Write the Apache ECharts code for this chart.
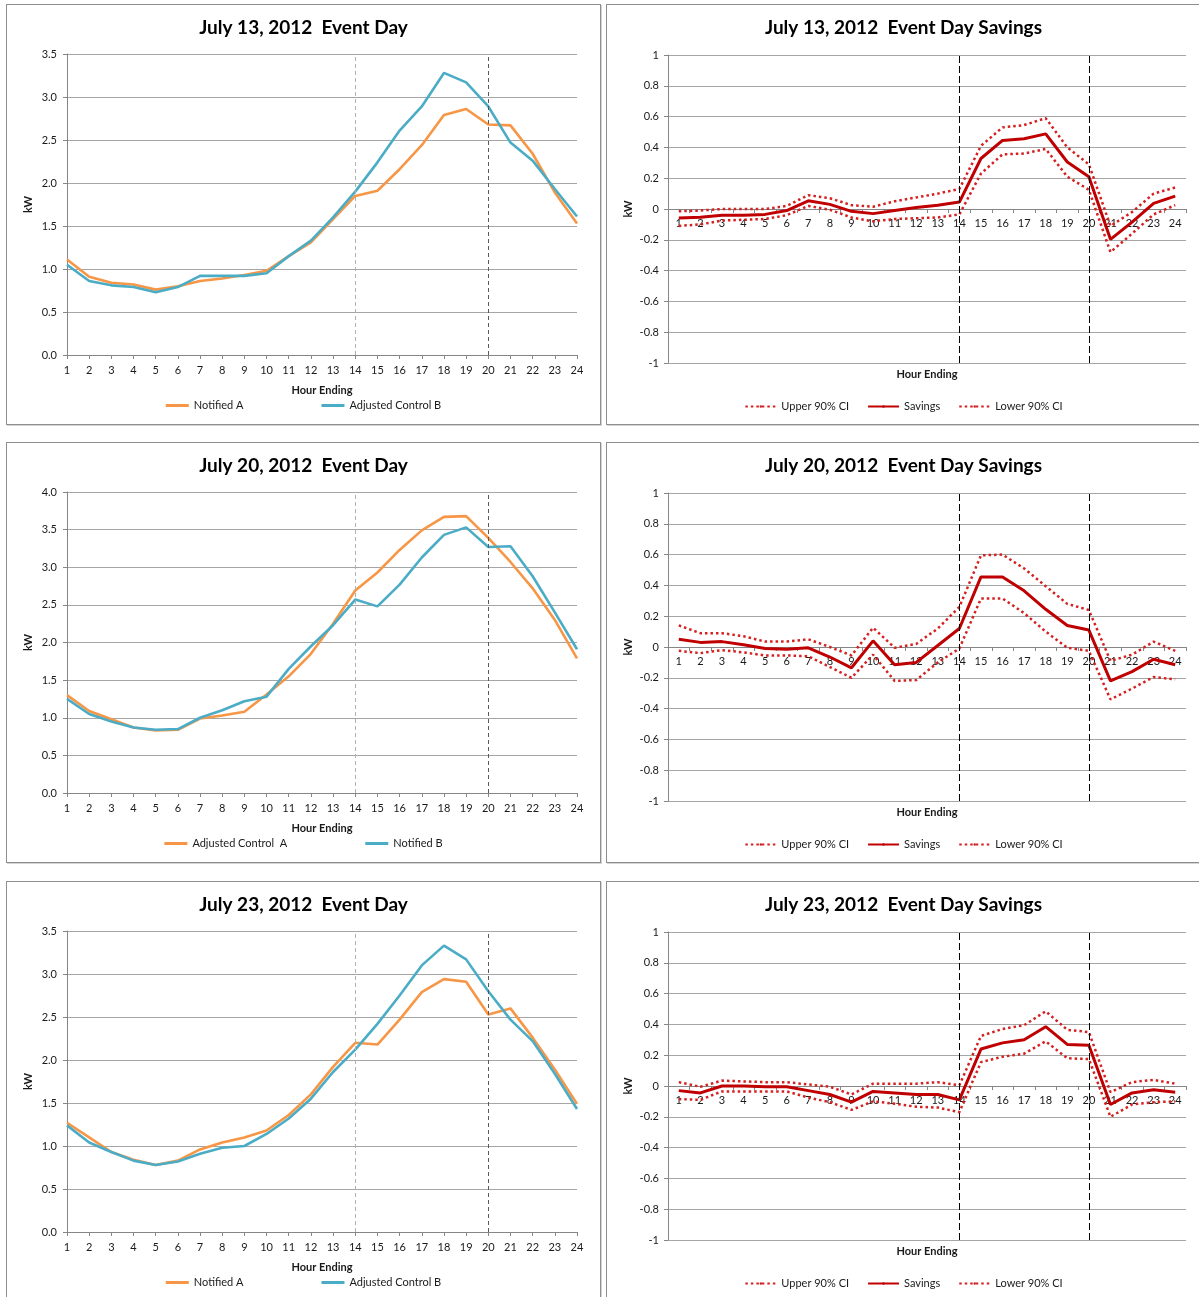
<!DOCTYPE html>
<html><head><meta charset="utf-8">
<script src="https://cdn.jsdelivr.net/npm/echarts@6/dist/echarts.min.js"></script>
<style>
html,body{margin:0;padding:0;background:#fff;width:1199px;height:1297px;overflow:hidden;}
.panel{position:absolute;box-sizing:border-box;border:1px solid #8e8e8e;box-shadow:1px 1px 0 #d4d4d4;width:595px;height:421px;background:#fff;}
</style></head><body>
<div id="c1" class="panel" style="left:6px;top:4px"></div>
<div id="c2" class="panel" style="left:606px;top:4px"></div>
<div id="c3" class="panel" style="left:6px;top:442px"></div>
<div id="c4" class="panel" style="left:606px;top:442px"></div>
<div id="c5" class="panel" style="left:6px;top:881px"></div>
<div id="c6" class="panel" style="left:606px;top:881px"></div>
<script>
// ---------- data ----------
const hours = ['1','2','3','4','5','6','7','8','9','10','11','12','13','14','15','16','17','18','19','20','21','22','23','24'];
const eventStart = '14';
const eventEnd = '20';

// July 13
const jul13NotifiedA = [1.11,0.91,0.84,0.82,0.76,0.80,0.86,0.89,0.93,0.98,1.15,1.31,1.58,1.85,1.91,2.16,2.44,2.79,2.86,2.68,2.67,2.34,1.89,1.53];
const jul13AdjControlB = [1.05,0.86,0.81,0.79,0.73,0.79,0.92,0.92,0.92,0.95,1.15,1.33,1.60,1.90,2.24,2.61,2.89,3.28,3.17,2.89,2.47,2.26,1.93,1.61];
const jul13Upper = [-0.015,-0.01,0,0,0,0.02,0.09,0.07,0.025,0.015,0.05,0.075,0.10,0.13,0.41,0.53,0.545,0.59,0.40,0.29,-0.11,-0.02,0.10,0.14];
const jul13Savings = [-0.058,-0.054,-0.04,-0.04,-0.035,-0.01,0.053,0.03,-0.015,-0.03,-0.01,0.01,0.025,0.045,0.328,0.445,0.456,0.488,0.305,0.209,-0.197,-0.085,0.037,0.084];
const jul13Lower = [-0.11,-0.10,-0.075,-0.07,-0.065,-0.04,0.02,-0.005,-0.055,-0.08,-0.065,-0.06,-0.055,-0.035,0.23,0.355,0.36,0.39,0.21,0.125,-0.28,-0.16,-0.035,0.025];

// July 20
const jul20AdjControlA = [1.30,1.09,0.98,0.87,0.83,0.84,0.99,1.03,1.08,1.31,1.55,1.85,2.25,2.69,2.93,3.23,3.49,3.67,3.68,3.39,3.07,2.72,2.30,1.79];
const jul20NotifiedB = [1.25,1.05,0.95,0.87,0.84,0.85,1.00,1.10,1.22,1.28,1.65,1.95,2.23,2.57,2.48,2.77,3.13,3.43,3.53,3.27,3.28,2.88,2.40,1.91];
const jul20Upper = [0.14,0.09,0.09,0.07,0.035,0.035,0.05,0.0,-0.055,0.125,-0.005,0.02,0.12,0.26,0.595,0.60,0.51,0.395,0.28,0.24,-0.09,-0.05,0.035,-0.025];
const jul20Savings = [0.05,0.03,0.035,0.015,-0.01,-0.015,-0.005,-0.065,-0.135,0.04,-0.115,-0.10,0.01,0.12,0.455,0.455,0.365,0.245,0.14,0.11,-0.22,-0.16,-0.08,-0.115];
const jul20Lower = [-0.025,-0.04,-0.02,-0.035,-0.055,-0.055,-0.06,-0.13,-0.20,-0.05,-0.22,-0.215,-0.10,-0.01,0.315,0.315,0.22,0.10,-0.005,-0.025,-0.34,-0.27,-0.195,-0.21];

// July 23
const jul23NotifiedA = [1.27,1.10,0.93,0.84,0.78,0.83,0.96,1.04,1.10,1.18,1.36,1.60,1.92,2.20,2.18,2.47,2.79,2.94,2.91,2.53,2.60,2.26,1.89,1.49];
const jul23AdjControlB = [1.24,1.04,0.93,0.83,0.78,0.82,0.91,0.98,1.00,1.14,1.32,1.55,1.86,2.12,2.42,2.75,3.10,3.33,3.17,2.80,2.47,2.22,1.84,1.43];
const jul23Upper = [0.025,-0.005,0.035,0.03,0.025,0.025,0.01,-0.005,-0.055,0.015,0.015,0.015,0.025,0.005,0.325,0.37,0.395,0.485,0.365,0.35,-0.04,0.025,0.04,0.015];
const jul23Savings = [-0.03,-0.045,0.0,0.0,-0.005,-0.005,-0.03,-0.055,-0.105,-0.035,-0.045,-0.055,-0.055,-0.09,0.24,0.28,0.30,0.385,0.27,0.265,-0.12,-0.045,-0.025,-0.04];
const jul23Lower = [-0.085,-0.09,-0.035,-0.035,-0.035,-0.035,-0.075,-0.105,-0.155,-0.10,-0.115,-0.135,-0.14,-0.17,0.155,0.19,0.21,0.29,0.18,0.175,-0.20,-0.12,-0.105,-0.10];

// ---------- styling ----------
const FONT = 'Lato, "Open Sans", sans-serif';
const ORANGE = '#F79646';
const BLUE = '#4BACC6';
const RED = '#C00000';
const RED_DOT = '#D42020';
const AXIS = '#868686';
const GRID = '#a6a6a6';
const TXT = '#1a1a1a';

function loadOption(title, nameA, dataA, nameB, dataB, yMax) {
  return {
    animation: false,
    textStyle: { fontFamily: FONT },
    title: { text: title, left: 'center', top: 8,
      textStyle: { fontFamily: FONT, fontSize: 19, fontWeight: 'bold', color: '#000' } },
    legend: { left: 'center', top: 390, itemWidth: 23, itemHeight: 3, itemGap: 78,
      icon: 'rect', data: [nameA, nameB],
      textStyle: { fontFamily: FONT, fontSize: 11, color: TXT } },
    grid: { left: 60, right: 23, top: 49, bottom: 69, outerBoundsMode: 'none' },
    xAxis: { type: 'category', data: hours, boundaryGap: false,
      axisLine: { lineStyle: { color: AXIS, width: 1 } },
      axisTick: { show: true, length: 4, lineStyle: { color: AXIS } },
      axisLabel: { color: TXT, fontSize: 11, margin: 10, fontFamily: FONT, interval: 0 },
      name: 'Hour Ending', nameLocation: 'middle', nameGap: 30,
      nameTextStyle: { fontFamily: FONT, fontSize: 11, fontWeight: 'bold', color: TXT } },
    yAxis: { type: 'value', min: 0, max: yMax, interval: 0.5,
      axisLine: { show: true, lineStyle: { color: AXIS, width: 1 } },
      axisTick: { show: true, length: 4, lineStyle: { color: AXIS } },
      splitLine: { lineStyle: { color: GRID, width: 1 } },
      axisLabel: { color: TXT, fontSize: 11, margin: 10, fontFamily: FONT,
        formatter: v => v.toFixed(1) },
      name: 'kW', nameLocation: 'middle', nameGap: 33, nameMoveOverlap: false,
      nameTextStyle: { fontFamily: FONT, fontSize: 11, fontWeight: 'bold', color: TXT } },
    series: [
      { name: nameA, type: 'line', data: dataA, symbol: 'none',
        itemStyle: { color: ORANGE }, lineStyle: { color: ORANGE, width: 2.6 },
        markLine: { silent: true, symbol: ['none','none'], label: { show: false },
          data: [ { xAxis: eventStart, lineStyle: { color: '#b0b0b0', type: [4,3], width: 1 } },
                  { xAxis: eventEnd, lineStyle: { color: '#5a5a5a', type: [4,3], width: 1 } } ] } },
      { name: nameB, type: 'line', data: dataB, symbol: 'none',
        itemStyle: { color: BLUE }, lineStyle: { color: BLUE, width: 2.6 } }
    ]
  };
}

function savingsOption(title, upper, savings, lower) {
  const dot = { color: RED_DOT, width: 2.5, type: [2.5, 3] };
  return {
    animation: false,
    textStyle: { fontFamily: FONT },
    title: { text: title, left: 'center', top: 8,
      textStyle: { fontFamily: FONT, fontSize: 19, fontWeight: 'bold', color: '#000' } },
    legend: { left: 'center', top: 391, itemWidth: 31, itemHeight: 3, itemGap: 18,
      data: ['Upper 90% CI', 'Savings', 'Lower 90% CI'],
      textStyle: { fontFamily: FONT, fontSize: 11, color: TXT } },
    // grid 0: full plot (-1..1); grid 1: upper half, its bottom edge = the zero line,
    // carrying the hour-ending category axis drawn at y = 0
    grid: [
      { left: 61, right: 14, top: 50, bottom: 61, outerBoundsMode: 'none' },
      { left: 61, right: 14, top: 50, bottom: 215, outerBoundsMode: 'none' }
    ],
    graphic: [{ type: 'text', x: 320, y: 369, silent: true,
      style: { text: 'Hour Ending', align: 'center', verticalAlign: 'middle',
        font: 'bold 11px ' + FONT, fill: TXT } }],
    xAxis: [
      { type: 'category', data: hours, boundaryGap: true, gridIndex: 0,
        axisLine: { show: false }, axisTick: { show: false }, axisLabel: { show: false } },
      { type: 'category', data: hours, boundaryGap: true, gridIndex: 1, position: 'bottom',
        axisLine: { show: true, onZero: false, lineStyle: { color: AXIS, width: 1 } },
        axisTick: { show: true, length: 4, lineStyle: { color: AXIS } },
        axisLabel: { color: TXT, fontSize: 11, margin: 9, fontFamily: FONT, interval: 0 } }
    ],
    yAxis: [
      { type: 'value', min: -1, max: 1, interval: 0.2, gridIndex: 0,
        axisLine: { show: true, lineStyle: { color: AXIS, width: 1 } },
        axisTick: { show: true, length: 4, lineStyle: { color: AXIS } },
        splitLine: { lineStyle: { color: GRID, width: 1 } },
        axisLabel: { color: TXT, fontSize: 11, margin: 9, fontFamily: FONT,
          formatter: v => String(+v.toFixed(1)) },
        name: 'kW', nameLocation: 'middle', nameGap: 34, nameMoveOverlap: false,
        nameTextStyle: { fontFamily: FONT, fontSize: 11, fontWeight: 'bold', color: TXT } },
      { type: 'value', min: 0, max: 1, gridIndex: 1, show: false }
    ],
    series: [
      { name: 'Upper 90% CI', type: 'line', data: upper, symbol: 'none',
        xAxisIndex: 0, yAxisIndex: 0, z: 3,
        itemStyle: { color: RED_DOT }, lineStyle: dot,
        markLine: { silent: true, symbol: ['none','none'], label: { show: false },
          lineStyle: { color: '#000', type: [7,3], width: 1 },
          data: [ { xAxis: eventStart }, { xAxis: eventEnd } ] } },
      { name: 'Savings', type: 'line', data: savings, symbol: 'none',
        xAxisIndex: 0, yAxisIndex: 0, z: 3,
        itemStyle: { color: RED }, lineStyle: { color: RED, width: 3 } },
      { name: 'Lower 90% CI', type: 'line', data: lower, symbol: 'none',
        xAxisIndex: 0, yAxisIndex: 0, z: 3,
        itemStyle: { color: RED_DOT }, lineStyle: dot }
    ]
  };
}

const charts = [
  ['c1', loadOption('July 13, 2012  Event Day', 'Notified A', jul13NotifiedA, 'Adjusted Control B', jul13AdjControlB, 3.5)],
  ['c2', savingsOption('July 13, 2012  Event Day Savings', jul13Upper, jul13Savings, jul13Lower)],
  ['c3', loadOption('July 20, 2012  Event Day', 'Adjusted Control  A', jul20AdjControlA, 'Notified B', jul20NotifiedB, 4.0)],
  ['c4', savingsOption('July 20, 2012  Event Day Savings', jul20Upper, jul20Savings, jul20Lower)],
  ['c5', loadOption('July 23, 2012  Event Day', 'Notified A', jul23NotifiedA, 'Adjusted Control B', jul23AdjControlB, 3.5)],
  ['c6', savingsOption('July 23, 2012  Event Day Savings', jul23Upper, jul23Savings, jul23Lower)]
];
charts.forEach(([id, opt]) => {
  const c = echarts.init(document.getElementById(id), null, { renderer: 'canvas' });
  c.setOption(opt);
});
</script>
</body></html>
